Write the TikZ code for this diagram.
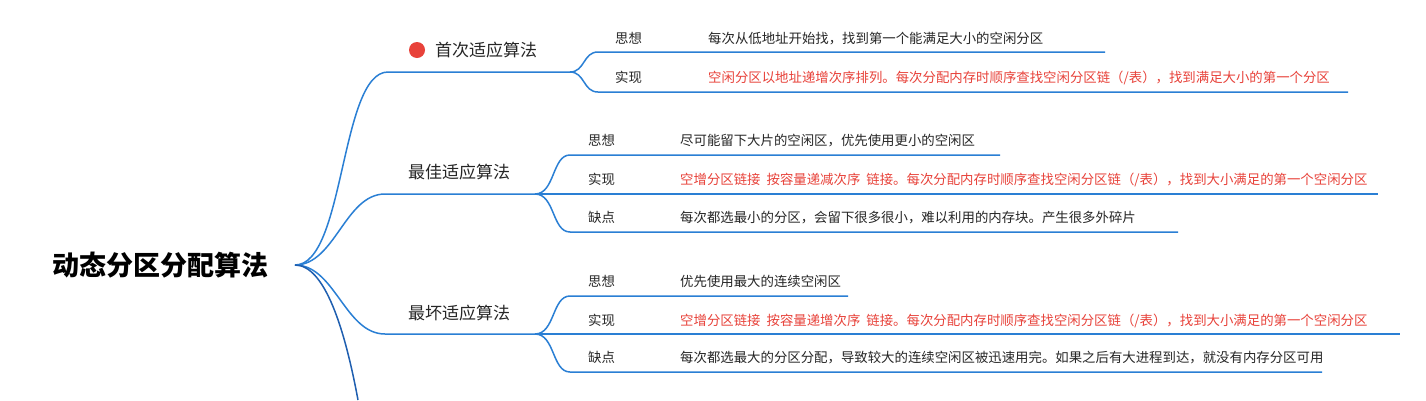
\documentclass[tikz,border=0pt]{standalone}
\usepackage{fontspec}
\setmainfont{Noto Sans CJK SC}
\begin{document}
\begin{tikzpicture}[x=1pt,y=-1pt,
  ln/.style={draw=lblue,line width=1.5pt},
  blab/.style={anchor=base west,font=\fontsize{17}{17}\selectfont,text=black!85,inner sep=0},
  clab/.style={anchor=base west,font=\fontsize{13.4}{13.4}\selectfont,text=black!85,inner sep=0},
  dtxt/.style={anchor=base west,font=\fontsize{13.4}{13.4}\selectfont,text=black!85,inner sep=0},
  rtxt/.style={anchor=base west,font=\fontsize{13.4}{13.4}\selectfont,text=lred,inner sep=0}]
\definecolor{lblue}{HTML}{2A7FD4}
\definecolor{dblue}{HTML}{1F5FB0}
\definecolor{lred}{HTML}{E8423A}
\useasboundingbox (0,0) rectangle (1426,400);
\fill[white] (0,0) rectangle (1426,400);
\node[anchor=center,font=\bfseries\fontsize{27}{27}\selectfont,inner sep=0] (root) at (160,265) {动态分区分配算法};
\coordinate (r) at (295,265);
\coordinate (b1) at (388,72); \coordinate (f1) at (570,72);
\coordinate (b2) at (385,194); \coordinate (f2) at (535,194);
\coordinate (b3) at (385,334); \coordinate (f3) at (535,334);
\coordinate (b4) at (358,400);
\draw[ln] (r) .. controls (345,265) and (340,72) .. (b1) -- (f1);
\draw[ln] (r) .. controls (335,265) and (345,194) .. (b2) -- (f2);
\draw[ln] (r) .. controls (335,265) and (345,334) .. (b3) -- (f3);
\draw[draw=dblue,line width=1.5pt] (r) .. controls (325,265) and (345,330) .. (b4);
\fill[lred] (417,50) circle (8);
\node[blab] (n1) at (435,56) {首次适应算法};
\node[blab] (n2) at (408,178) {最佳适应算法};
\node[blab] (n3) at (408,319) {最坏适应算法};
\coordinate (c11) at (598,52); \coordinate (c12) at (598,92);
\draw[ln] (f1) .. controls (585,72) and (583,52) .. (c11) -- (1105,52);
\draw[ln] (f1) .. controls (585,72) and (583,92) .. (c12) -- (1348,92);
\node[clab] (t11) at (615,43) {思想};
\node[dtxt] (d11) at (708,43) {每次从低地址开始找，找到第一个能满足大小的空闲分区};
\node[clab] (t12) at (615,82) {实现};
\node[rtxt] (d12) at (708,82) {空闲分区以地址递增次序排列。每次分配内存时顺序查找空闲分区链（/表），找到满足大小的第一个分区};
\coordinate (c21) at (570,155); \coordinate (c23) at (570,232);
\draw[ln] (f2) .. controls (555,194) and (552,155) .. (c21) -- (1000,155);
\draw[ln] (f2) -- (1378,194);
\draw[ln] (f2) .. controls (555,194) and (552,232) .. (c23) -- (1178,232);
\node[clab] (t21) at (588,145) {思想};
\node[dtxt] (d21) at (680,145) {尽可能留下大片的空闲区，优先使用更小的空闲区};
\node[clab] (t22) at (588,184) {实现};
\node[rtxt] (d22) at (680,184) {空增分区链接\ \ 按容量递减次序\ \ 链接。每次分配内存时顺序查找空闲分区链（/表），找到大小满足的第一个空闲分区};
\node[clab] (t23) at (588,222) {缺点};
\node[dtxt] (d23) at (680,222) {每次都选最小的分区，会留下很多很小，难以利用的内存块。产生很多外碎片};
\coordinate (c31) at (570,296); \coordinate (c33) at (570,372);
\draw[ln] (f3) .. controls (555,334) and (552,296) .. (c31) -- (848,296);
\draw[ln] (f3) -- (1400,334);
\draw[ln] (f3) .. controls (555,334) and (552,372) .. (c33) -- (1322,372);
\node[clab] (t31) at (588,286) {思想};
\node[dtxt] (d31) at (680,286) {优先使用最大的连续空闲区};
\node[clab] (t32) at (588,325) {实现};
\node[rtxt] (d32) at (680,325) {空增分区链接\ \ 按容量递增次序\ \ 链接。每次分配内存时顺序查找空闲分区链（/表），找到大小满足的第一个空闲分区};
\node[clab] (t33) at (588,362) {缺点};
\node[dtxt] (d33) at (680,362) {每次都选最大的分区分配，导致较大的连续空闲区被迅速用完。如果之后有大进程到达，就没有内存分区可用};
\end{tikzpicture}
\end{document}
